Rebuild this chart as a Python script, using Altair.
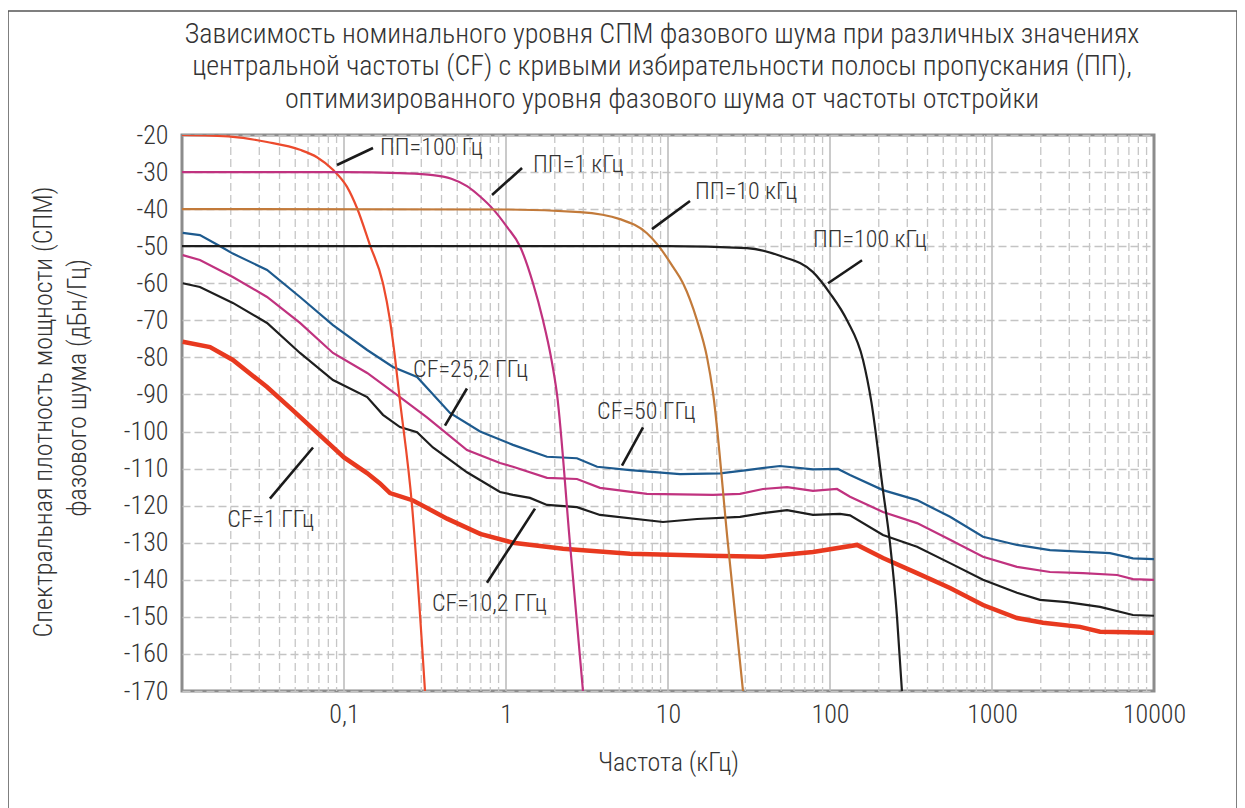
import altair as alt
import pandas as pd

FONT = "Roboto Condensed, Liberation Sans Narrow, DejaVu Sans Condensed, Arial Narrow, sans-serif"
FW = 300
TXT = "#333333"

# ---------------- data (frequency in kHz, level in dBc/Hz) ----------------
cf50_x = [0.0101, 0.0129, 0.0172, 0.0206, 0.0335, 0.0535, 0.0855, 0.139, 0.2006, 0.2825, 0.451,
          0.6918, 1.104, 1.79, 2.74, 3.65, 5.83, 11.86, 20.96, 30.76, 49.1, 78.6, 112, 132.9,
          212.3, 344.4, 550.8, 880, 1426, 2280, 5350, 7418, 10000]
cf50_y = [-46.4, -47, -50, -52, -56.4, -63.7, -71.3, -78, -82.6, -85.3, -95,
          -100, -103.6, -106.8, -107.2, -109.5, -110.4, -111.5, -111.3, -110.4, -109.3, -110.2, -110.1, -111.7,
          -115.8, -118.5, -123, -128.4, -130.6, -132, -132.8, -134.2, -134.4]

cf25_x = [0.0101, 0.0129, 0.0206, 0.0335, 0.0535, 0.0855, 0.139, 0.2216, 0.3252, 0.5743, 0.9183,
          1.104, 1.791, 2.743, 3.802, 7.413, 18.97, 27.82, 38.57, 54.32, 78.56, 110.4, 132.9,
          212.3, 344.4, 550.8, 880, 1426, 2280, 3647, 5916, 7418, 10000]
cf25_y = [-52.4, -53.7, -58.3, -63.7, -70.7, -78.8, -84.2, -90.7, -96.2, -105, -108.5,
          -109.5, -112.5, -112.8, -115.2, -116.8, -117.1, -116.8, -115.5, -115, -116, -115.5, -117.6,
          -121.7, -124.7, -129.2, -133.8, -136.5, -137.9, -138.2, -138.7, -139.8, -140]

cf10_x = [0.0101, 0.0129, 0.0206, 0.0335, 0.0535, 0.0855, 0.139, 0.174, 0.2216, 0.2825, 0.354,
          0.5743, 0.9183, 1.104, 1.406, 1.791, 2.743, 3.802, 9.311, 15.11, 27.82, 38.57, 54.32,
          78.56, 115.3, 132.9, 212.3, 344.4, 550.8, 880, 1426, 1977, 2904, 4645, 7418, 10000]
cf10_y = [-60, -61, -65.3, -70.7, -78.8, -86.1, -90.7, -95.5, -98.8, -100.2, -104.3,
          -111, -116.3, -117.1, -117.9, -119.8, -120.4, -122.5, -124.4, -123.6, -123, -122, -121.2,
          -122.5, -122.2, -122.6, -127.9, -131.1, -135.5, -140, -143.5, -145.4, -146, -147.3, -149.5, -149.7]

cf1_x = [0.0101, 0.0149, 0.0206, 0.0335, 0.0484, 0.1, 0.1387, 0.1667, 0.1923, 0.2667, 0.4325,
         0.6918, 1.104, 2.249, 5.825, 18.16, 38.57, 78.56, 146.9, 212.3, 344.4, 550.8, 880,
         1426, 2065, 3493, 4645, 10000]
cf1_y = [-75.8, -77.2, -80.7, -88, -94.3, -107, -111.2, -114, -116.6, -118.6, -123.5,
         -127.6, -130, -131.6, -133, -133.5, -133.8, -132.5, -130.6, -134.1, -138.2, -142.2, -146.8,
         -150.3, -151.6, -152.7, -154, -154.3]

bw100_x = [0.01, 0.0206, 0.0335, 0.0535, 0.0681, 0.0855, 0.1044, 0.1203, 0.1446, 0.174, 0.1923,
           0.2064, 0.2186, 0.263, 0.3162]
bw100_y = [-20, -20.5, -21.9, -24, -26, -29.4, -34, -39.7, -49.7, -60, -70,
           -80, -89.6, -120, -170]

bw1k_x = [0.01, 0.1, 0.2216, 0.354, 0.46, 0.5743, 0.6918, 0.8318, 1.014, 1.219, 1.468, 1.692,
          1.897, 2.065, 2.48, 2.987]
bw1k_y = [-30, -30, -30.3, -30.8, -31.8, -33.8, -36.6, -40, -44.8, -50, -60, -70,
          -80, -90, -130, -170]

bw10k_x = [0.01, 1, 2.864, 5.055, 7.413, 8.67, 10.74, 12.38, 15.11, 17.42, 18.97, 23.4, 29.04]
bw10k_y = [-40, -40.1, -40.8, -42.7, -46.5, -49.7, -55.6, -60, -70, -80, -89.6, -130, -170]

bw100k_x = [0.01, 10, 30.76, 49.09, 78.56, 100, 127.4, 159.9, 180, 212.3, 234.4, 259.2, 278]
bw100k_y = [-50, -50, -50.5, -52.6, -57.0, -62.7, -70, -80.7, -92, -115.8, -130, -150, -170]

x_ticks = [0.1, 1, 10, 100, 1000, 10000]
y_ticks = [-20, -30, -40, -50, -60, -70, -80, -90, -100, -110, -120, -130, -140, -150, -160, -170]
decades = [0.1, 1, 10, 100, 1000]
minor_grid = [m * d for d in [0.01, 0.1, 1, 10, 100, 1000] for m in range(2, 10)]

labels = ["ПП=100 Гц", "ПП=1 кГц", "ПП=10 кГц", "ПП=100 кГц",
          "CF=25,2 ГГц", "CF=1 ГГц", "CF=10,2 ГГц", "CF=50 ГГц"]
label_x = [0.167, 1.47, 14.7, 78.5, 0.267, 0.019, 0.349, 3.65]
label_y = [-23.5, -28.1, -35.4, -48.4, -83.5, -123.8, -146.5, -94.6]
lead_x = [0.0905, 0.82, 7.96, 97.2, 0.42, 0.0349, 0.763, 5.2]
lead_y = [-28.1, -36.2, -45.4, -60, -98.4, -118.1, -140.8, -109.2]
lead_x2 = [0.151, 1.256, 13.67, 157.7, 0.574, 0.0644, 1.51, 7.01]
lead_y2 = [-23.5, -28.9, -37.8, -53.8, -88.4, -104.3, -120.8, -98.9]

series_names = ["CF=50 ГГц", "CF=25,2 ГГц", "CF=10,2 ГГц", "CF=1 ГГц",
                "ПП=100 Гц", "ПП=1 кГц", "ПП=10 кГц", "ПП=100 кГц"]
series_colors = ["#1d5a8e", "#c0327f", "#1e1e1e", "#e8391f",
                 "#ec4a2d", "#c0327f", "#c27a3a", "#1e1e1e"]

# ---------------- tables ----------------
def series(name, xs, ys):
    return pd.DataFrame({"x": xs, "y": ys, "s": name})

noise = pd.concat([series("CF=50 ГГц", cf50_x, cf50_y),
                   series("CF=25,2 ГГц", cf25_x, cf25_y),
                   series("CF=10,2 ГГц", cf10_x, cf10_y)])
noise_red = series("CF=1 ГГц", cf1_x, cf1_y)
filters = pd.concat([series("ПП=100 Гц", bw100_x, bw100_y),
                     series("ПП=1 кГц", bw1k_x, bw1k_y),
                     series("ПП=10 кГц", bw10k_x, bw10k_y),
                     series("ПП=100 кГц", bw100k_x, bw100k_y)])
annot = pd.DataFrame({"x": label_x, "y": label_y, "t": labels})
leads = pd.DataFrame({"x": lead_x, "y": lead_y, "x2": lead_x2, "y2": lead_y2})

W, H = 972, 556

xscale = alt.Scale(type="log", domain=[0.01, 10000], nice=False)
yscale = alt.Scale(domain=[-170, -20], nice=False, zero=False)

xaxis = alt.Axis(values=x_ticks, labelExpr="datum.value < 1 ? '0,1' : '' + datum.value",
                 grid=False, ticks=False, domain=False, labelFlush=False, labelOverlap=False,
                 labelFont=FONT, labelFontSize=26,
                 labelFontWeight=FW, labelColor=TXT, labelPadding=10, title="Частота (кГц)",
                 titleFont=FONT, titleFontSize=26, titleFontWeight=FW, titleColor=TXT,
                 titlePadding=22)
yaxis = alt.Axis(values=y_ticks, labelExpr="datum.value < 0 ? '-' + abs(datum.value) : '' + datum.value",
                 grid=True, gridDash=[8, 4], gridColor="#c4c4c4", gridWidth=1.3,
                 ticks=False, domain=False, labelFlush=False, labelOverlap=False,
                 labelFont=FONT, labelFontSize=26, labelFontWeight=FW,
                 labelColor=TXT, labelPadding=14, title=None)

X = alt.X("x:Q", scale=xscale, axis=xaxis)
Y = alt.Y("y:Q", scale=yscale, axis=yaxis)
C = alt.Color("s:N", scale=alt.Scale(domain=series_names, range=series_colors), legend=None)

minor = alt.Chart(pd.DataFrame({"x": minor_grid})).transform_filter(
    "datum.x > 0.01 && datum.x < 10000").mark_rule(
    color="#c6c6c6", strokeWidth=1.3, strokeDash=[8, 4]).encode(x=X)
major = alt.Chart(pd.DataFrame({"x": decades})).mark_rule(
    color="#bdbdbd", strokeWidth=1.6).encode(x=X)

noise_layer = alt.Chart(noise).mark_line(strokeWidth=2.2, clip=True).encode(
    x=X, y=Y, color=C, detail="s:N")
red_layer = alt.Chart(noise_red).mark_line(strokeWidth=4.5, clip=True).encode(
    x=X, y=Y, color=C)
filter_layer = alt.Chart(filters).mark_line(strokeWidth=2.2, interpolate="monotone", clip=True).encode(
    x=X, y=Y, color=C, detail="s:N")

lead_layer = alt.Chart(leads).mark_rule(color="#1a1a1a", strokeWidth=2.6).encode(
    x=X, y=Y, x2="x2:Q", y2="y2:Q")
text_layer = alt.Chart(annot).mark_text(align="left", baseline="middle", font=FONT,
                                        fontSize=24, fontWeight=FW, color=TXT).encode(
    x=X, y=Y, text="t:N")

one = pd.DataFrame({"a": [0]})
title_lines = [
    "Зависимость номинального уровня СПМ фазового шума при различных значениях",
    "центральной частоты (CF) с кривыми избирательности полосы пропускания (ПП),",
    "оптимизированного уровня фазового шума от частоты отстройки",
]
title_layers = [
    alt.Chart(one).mark_text(text=t, font=FONT, fontSize=28, fontWeight=FW, color=TXT,
                             align="center", baseline="alphabetic").encode(
        x=alt.value(W / 2 - 6), y=alt.value(yy))
    for t, yy in zip(title_lines, [-92, -60, -27])
]
ylab_layers = [
    alt.Chart(one).mark_text(text=t, font=FONT, fontSize=26, fontWeight=FW, color=TXT,
                             align="center", baseline="middle", angle=270).encode(
        x=alt.value(xx), y=alt.value(yy))
    for t, xx, yy in [("Спектральная плотность мощности (СПМ)", -138, 277),
                      ("фазового шума  (дБн/Гц)", -104, 253)]
]
border = alt.Chart(one).mark_rect(fillOpacity=0, stroke="#555555", strokeWidth=1.5).encode(
    x=alt.value(-174), x2=alt.value(1055), y=alt.value(-124), y2=alt.value(700))

chart = alt.layer(
    minor, major, noise_layer, red_layer, filter_layer, lead_layer, text_layer,
    *title_layers, *ylab_layers, border
).properties(
    width=W, height=H,
    autosize=alt.AutoSizeParams(type="none"),
    padding={"left": 174, "top": 127, "right": 83, "bottom": 117},
    background="white",
).configure_view(stroke="#8c8c8c", strokeWidth=3)

chart.save("out.html", embed_options={"renderer": "svg", "actions": False})
